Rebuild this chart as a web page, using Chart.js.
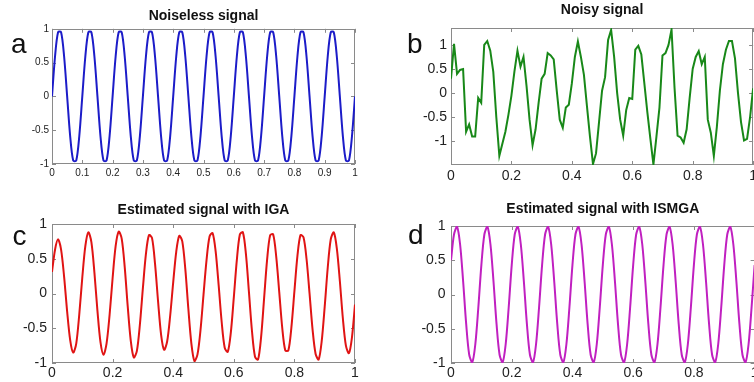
<!DOCTYPE html>
<html>
<head>
<meta charset="utf-8">
<title>Signals</title>
<script src="https://cdn.jsdelivr.net/npm/chart.js@4.4.1/dist/chart.umd.min.js"></script>
<style>
    html, body { margin: 0; padding: 0; background: #fff; overflow: hidden; width: 754px; height: 382px; }
    canvas { position: absolute; }
</style>
</head>
<body>
<canvas id="chartA" width="377" height="191" style="left:0;top:0"></canvas>
<canvas id="chartB" width="383" height="191" style="left:377px;top:0"></canvas>
<canvas id="chartC" width="377" height="191" style="left:0;top:191px"></canvas>
<canvas id="chartD" width="383" height="191" style="left:377px;top:191px"></canvas>
<script>
// sample times
const timeSteps = [
    0, 0.01, 0.02, 0.03, 0.04, 0.05, 0.06, 0.07, 0.08, 0.09,
    0.1, 0.11, 0.12, 0.13, 0.14, 0.15, 0.16, 0.17, 0.18, 0.19,
    0.2, 0.21, 0.22, 0.23, 0.24, 0.25, 0.26, 0.27, 0.28, 0.29,
    0.3, 0.31, 0.32, 0.33, 0.34, 0.35, 0.36, 0.37, 0.38, 0.39,
    0.4, 0.41, 0.42, 0.43, 0.44, 0.45, 0.46, 0.47, 0.48, 0.49,
    0.5, 0.51, 0.52, 0.53, 0.54, 0.55, 0.56, 0.57, 0.58, 0.59,
    0.6, 0.61, 0.62, 0.63, 0.64, 0.65, 0.66, 0.67, 0.68, 0.69,
    0.7, 0.71, 0.72, 0.73, 0.74, 0.75, 0.76, 0.77, 0.78, 0.79,
    0.8, 0.81, 0.82, 0.83, 0.84, 0.85, 0.86, 0.87, 0.88, 0.89,
    0.9, 0.91, 0.92, 0.93, 0.94, 0.95, 0.96, 0.97, 0.98, 0.99,
    1
];

// a - noiseless signal
const noiselessValues = [
    0, 0.59, 0.95, 0.95, 0.59, 0, -0.59, -0.95, -0.95, -0.59,
    0, 0.59, 0.95, 0.95, 0.59, 0, -0.59, -0.95, -0.95, -0.59,
    0, 0.59, 0.95, 0.95, 0.59, 0, -0.59, -0.95, -0.95, -0.59,
    0, 0.59, 0.95, 0.95, 0.59, 0, -0.59, -0.95, -0.95, -0.59,
    0, 0.59, 0.95, 0.95, 0.59, 0, -0.59, -0.95, -0.95, -0.59,
    0, 0.59, 0.95, 0.95, 0.59, 0, -0.59, -0.95, -0.95, -0.59,
    0, 0.59, 0.95, 0.95, 0.59, 0, -0.59, -0.95, -0.95, -0.59,
    0, 0.59, 0.95, 0.95, 0.59, 0, -0.59, -0.95, -0.95, -0.59,
    0, 0.59, 0.95, 0.95, 0.59, 0, -0.59, -0.95, -0.95, -0.59,
    0, 0.59, 0.95, 0.95, 0.59, 0, -0.59, -0.95, -0.95, -0.59,
    0
];

// b - noisy signal
const noisyValues = [
    0.3, 1.02, 0.4, 0.48, 0.5, -0.8, -0.65, -0.9, -0.9, -0.1,
    -0.2, 1.0, 1.08, 0.88, 0.44, -0.5, -1.3, -1.05, -0.8, -0.45,
    -0.05, 0.45, 0.88, 0.55, 0.75, 0.15, -0.55, -1.08, -0.75, -0.2,
    0.3, 0.4, 0.83, 0.78, 0.7, 0.05, -0.55, -0.72, -0.3, -0.24,
    0.2, 0.75, 1.07, 0.75, 0.38, -0.27, -0.9, -1.47, -1.25, -0.6,
    0.05, 0.33, 1.1, 1.31, 0.75, 0.0, -0.55, -0.88, -0.35, -0.1,
    -0.12, 0.9, 0.98, 0.8, 0.2, -0.4, -0.95, -1.48, -0.9, -0.3,
    0.78, 0.83, 1.0, 1.32, 0.1, -0.88, -0.92, -1.03, -0.75, -0.1,
    0.5, 0.75, 0.87, 0.6, 0.75, -0.55, -0.82, -1.3, -0.7, 0.05,
    0.6, 0.9, 1.08, 1.08, 0.72, 0.0, -0.6, -0.98, -0.95, -0.5,
    0.1
];

// c - estimated with IGA
const igaValues = [
    0.31, 0.63, 0.78, 0.63, 0.24, -0.26, -0.67, -0.85, -0.72, -0.3,
    0.23, 0.68, 0.88, 0.74, 0.3, -0.25, -0.7, -0.88, -0.72, -0.31,
    0.22, 0.68, 0.89, 0.79, 0.38, -0.19, -0.68, -0.92, -0.83, -0.45,
    0.08, 0.57, 0.84, 0.8, 0.43, -0.11, -0.59, -0.81, -0.69, -0.32,
    0.16, 0.6, 0.83, 0.75, 0.35, -0.22, -0.72, -0.97, -0.88, -0.53,
    -0.02, 0.48, 0.82, 0.87, 0.61, 0.12, -0.41, -0.78, -0.84, -0.57,
    -0.06, 0.48, 0.85, 0.88, 0.57, 0.02, -0.54, -0.91, -0.95, -0.63,
    -0.07, 0.49, 0.84, 0.85, 0.53, 0.02, -0.5, -0.82, -0.82, -0.49,
    0.03, 0.54, 0.84, 0.81, 0.5, 0.0, -0.52, -0.87, -0.95, -0.69,
    -0.19, 0.37, 0.78, 0.88, 0.65, 0.18, -0.36, -0.75, -0.86, -0.63,
    -0.16
];

// d - estimated with ISMGA
const ismgaValues = [
    0.5, 0.88, 0.99, 0.73, 0.19, -0.43, -0.88, -0.99, -0.73, -0.19,
    0.43, 0.88, 0.99, 0.73, 0.19, -0.43, -0.88, -0.99, -0.73, -0.19,
    0.43, 0.88, 0.99, 0.73, 0.19, -0.43, -0.88, -0.99, -0.73, -0.19,
    0.43, 0.88, 0.99, 0.73, 0.19, -0.43, -0.88, -0.99, -0.73, -0.19,
    0.43, 0.88, 0.99, 0.73, 0.19, -0.43, -0.88, -0.99, -0.73, -0.19,
    0.43, 0.88, 0.99, 0.73, 0.19, -0.43, -0.88, -0.99, -0.73, -0.19,
    0.43, 0.88, 0.99, 0.73, 0.19, -0.43, -0.88, -0.99, -0.73, -0.19,
    0.43, 0.88, 0.99, 0.73, 0.19, -0.43, -0.88, -0.99, -0.73, -0.19,
    0.43, 0.88, 0.99, 0.73, 0.19, -0.43, -0.88, -0.99, -0.73, -0.19,
    0.43, 0.88, 0.99, 0.73, 0.19, -0.43, -0.88, -0.99, -0.73, -0.19,
    0.43
];

// tick labels
const tenthTicks = [0, 0.1, 0.2, 0.3, 0.4, 0.5, 0.6, 0.7, 0.8, 0.9, 1];
const fifthTicks = [0, 0.2, 0.4, 0.6, 0.8, 1];
const ampTicks = [-1, -0.5, 0, 0.5, 1];

const fontFamily = '"Liberation Sans", Arial, sans-serif';
const boxColor = '#8a8a8a';

// box round the plot + inward tick marks (matlab look)
const boxTicks = {
    id: 'boxTicks',
    beforeDatasetsDraw(chart) {
        const { ctx, chartArea: area, scales } = chart;
        ctx.save();
        ctx.strokeStyle = boxColor;
        ctx.lineWidth = 1;
        ctx.beginPath();
        scales.x.ticks.forEach(t => {
            const px = Math.round(scales.x.getPixelForValue(t.value)) + 0.5;
            ctx.moveTo(px, area.top);
            ctx.lineTo(px, area.top + 4);
            ctx.moveTo(px, area.bottom);
            ctx.lineTo(px, area.bottom - 4);
        });
        scales.y.ticks.forEach(t => {
            const py = Math.round(scales.y.getPixelForValue(t.value)) + 0.5;
            ctx.moveTo(area.left, py);
            ctx.lineTo(area.left + 4, py);
            ctx.moveTo(area.right, py);
            ctx.lineTo(area.right - 4, py);
        });
        ctx.stroke();
        ctx.strokeRect(Math.round(area.left) + 0.5, Math.round(area.top) + 0.5,
            Math.round(area.width) - 1, Math.round(area.height) - 1);
        ctx.restore();
    }
};

// big panel letter (a, b, c, d)
const panelLetter = {
    id: 'panelLetter',
    afterDraw(chart, args, opts) {
        const ctx = chart.ctx;
        ctx.save();
        ctx.font = '28px ' + fontFamily;
        ctx.fillStyle = '#111';
        ctx.textBaseline = 'alphabetic';
        ctx.fillText(opts.text, opts.x, opts.y);
        ctx.restore();
    }
};

function drawPanel(canvasId, p) {
    const tickFont = { family: fontFamily, size: p.tickSize };

    new Chart(document.getElementById(canvasId), {
        type: 'line',
        data: {
            datasets: [{
                data: timeSteps.map((t, i) => ({ x: t, y: p.values[i] })),
                borderColor: p.color,
                borderWidth: 2,
                pointRadius: 0,
                tension: p.tension,
                fill: false
            }]
        },
        options: {
            responsive: false,
            animation: false,
            events: [],
            layout: { padding: { left: 0, right: p.rightPad, top: 0, bottom: 0 } },
            plugins: {
                legend: { display: false },
                tooltip: { enabled: false },
                title: {
                    display: true,
                    text: p.title,
                    fullSize: false,
                    color: '#111',
                    font: { family: fontFamily, size: 14, weight: 'bold' },
                    padding: p.titlePad
                },
                panelLetter: { text: p.letter, x: p.letterX, y: p.letterY }
            },
            scales: {
                x: {
                    type: 'linear',
                    min: 0,
                    max: 1,
                    afterBuildTicks: s => { s.ticks = p.xTicks.map(v => ({ value: v })); },
                    afterFit: s => { s.height = p.axisHeight; },
                    grid: { display: false, drawTicks: false },
                    border: { display: false },
                    ticks: {
                        autoSkip: false,
                        maxRotation: 0,
                        padding: p.xPad,
                        font: tickFont,
                        color: '#222',
                        callback: v => String(v)
                    }
                },
                y: {
                    min: p.yMin,
                    max: p.yMax,
                    afterBuildTicks: s => { s.ticks = ampTicks.map(v => ({ value: v })); },
                    afterFit: s => { s.width = p.axisWidth; },
                    grid: { display: false, drawTicks: false },
                    border: { display: false },
                    ticks: {
                        padding: p.yPad,
                        font: tickFont,
                        color: '#222',
                        callback: v => String(v)
                    }
                }
            }
        },
        plugins: [boxTicks, panelLetter]
    });
}

drawPanel('chartA', {
    values: noiselessValues, color: '#1c1cc8', tension: 0.3,
    title: 'Noiseless signal', titlePad: { top: 8, bottom: 4 },
    letter: 'a', letterX: 11, letterY: 53,
    xTicks: tenthTicks, yMin: -1, yMax: 1,
    tickSize: 10, xPad: 3, yPad: 3,
    axisWidth: 52, axisHeight: 27, rightPad: 22
});

drawPanel('chartB', {
    values: noisyValues, color: '#188818', tension: 0,
    title: 'Noisy signal', titlePad: { top: 2, bottom: 9.2 },
    letter: 'b', letterX: 30, letterY: 53,
    xTicks: fifthTicks, yMin: -1.49, yMax: 1.35,
    tickSize: 14, xPad: 3, yPad: 4,
    axisWidth: 74, axisHeight: 26, rightPad: 4
});

drawPanel('chartC', {
    values: igaValues, color: '#e01414', tension: 0.3,
    title: 'Estimated signal with IGA', titlePad: { top: 11, bottom: 5.2 },
    letter: 'c', letterX: 12.5, letterY: 54,
    xTicks: fifthTicks, yMin: -1, yMax: 1,
    tickSize: 14, xPad: 2, yPad: 5,
    axisWidth: 52, axisHeight: 19, rightPad: 22
});

drawPanel('chartD', {
    values: ismgaValues, color: '#c020c0', tension: 0.3,
    title: 'Estimated signal with ISMGA', titlePad: { top: 9.3, bottom: 8.9 },
    letter: 'd', letterX: 31, letterY: 53,
    xTicks: fifthTicks, yMin: -1, yMax: 1,
    tickSize: 14, xPad: 1.5, yPad: 5.5,
    axisWidth: 74, axisHeight: 19, rightPad: 4
});
</script>
</body>
</html>
